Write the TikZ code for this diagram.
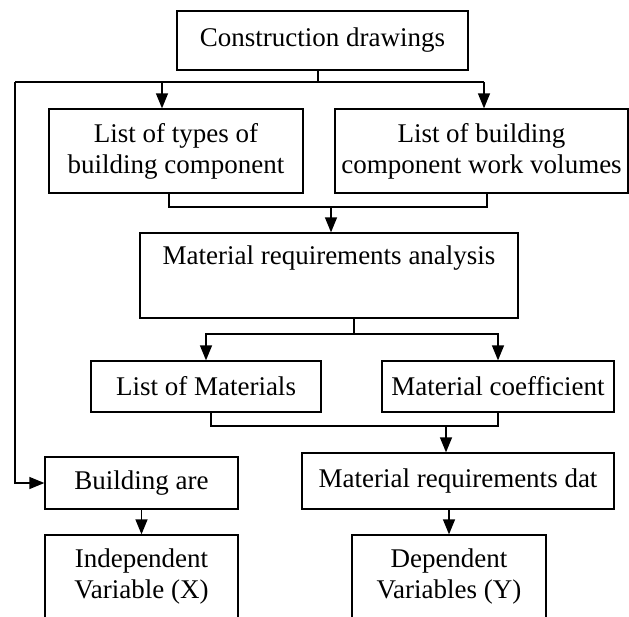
\documentclass[tikz,border=0pt]{standalone}
\usepackage{fontspec}
\setmainfont{Liberation Serif}
\usetikzlibrary{arrows.meta}
\begin{document}
\begin{tikzpicture}[x=1pt,y=-1pt,
    box/.style={draw,line width=1.3pt,align=center,inner sep=0pt,font=\fontsize{27}{31}\selectfont},
    link/.style={line width=1.3pt},
    arr/.style={link,-{Triangle[length=15pt,width=12pt]}}]
\path[use as bounding box] (0,0) rectangle (629,616);
\clip (0,0) rectangle (629,616);
\node[box,minimum width=291pt,minimum height=59pt] (cd) at (322.5,40.5) {Construction drawings};
\node[box,minimum width=254pt,minimum height=84pt] (ta) at (176,151) {List of types of\\building component};
\node[box,minimum width=293pt,minimum height=84pt] (wv) at (481.5,151) {List of building\\component work volumes};
\node[box,minimum width=378pt,text height=31pt,text depth=54pt] (mra) at (329,275.5) {Material requirements analysis};
\node[box,minimum width=230pt,minimum height=51pt] (lom) at (206,386.5) {List of Materials};
\node[box,minimum width=232pt,minimum height=51pt] (mc) at (498,386.5) {Material coefficient};
\node[box,minimum width=193pt,minimum height=52pt] (ba) at (141.5,483) {Building are};
\node[box,minimum width=312pt,minimum height=56pt] (mrd) at (458,481) {Material requirements dat};
\node[box,minimum width=193pt,minimum height=83pt] (iv) at (141.5,576.5) {Independent\\Variable (X)};
\node[box,minimum width=194pt,minimum height=83pt] (dv) at (449,576.5) {Dependent\\Variables (Y)};

\coordinate (fork) at (318,82);
\coordinate (feedL) at (15,82);
\coordinate (feedA) at (162,82);
\coordinate (feedB) at (484,82);
\draw[link] (cd.south -| fork) -- (fork);
\draw[link] (feedL) -- (feedB);
\draw[arr] (feedA) -- (feedA |- ta.north);
\draw[arr] (feedB) -- (feedB |- wv.north);
\draw[arr] (feedL) |- (ba.west);

\coordinate (joinA) at (169,207);
\coordinate (joinB) at (487,207);
\coordinate (joinC) at (331,207);
\draw[link] (joinA |- ta.south) -- (joinA) -- (joinB) -- (joinB |- wv.south);
\draw[arr] (joinC) -- (joinC |- mra.north);

\coordinate (fork2) at (354,334);
\draw[link] (mra.south -| fork2) -- (fork2);
\draw[arr] (fork2) -| (lom.north);
\draw[arr] (fork2) -| (mc.north);

\coordinate (joinL) at (211,426);
\coordinate (join2) at (446,426);
\draw[link] (joinL |- lom.south) -- (joinL) -- (mc.south |- joinL) -- (mc.south);
\draw[arr] (join2) -- (join2 |- mrd.north);

\draw[arr] (ba) -- (iv);
\draw[arr] (dv.north |- mrd.south) -- (dv.north);
\end{tikzpicture}
\end{document}
